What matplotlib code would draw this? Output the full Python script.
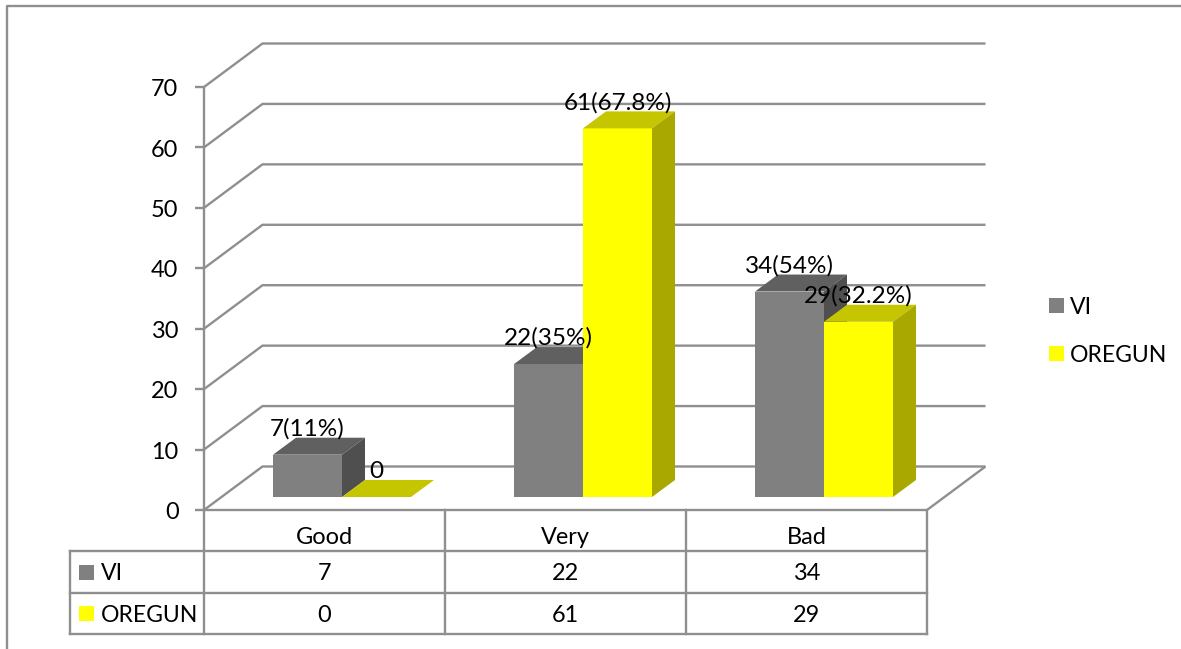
import matplotlib

matplotlib.use("Agg")
import matplotlib.pyplot as plt
from matplotlib.patches import Polygon, Rectangle

categories = ["Good", "Very", "Bad"]
series_names = ["VI", "OREGUN"]
vi_values = [7, 22, 34]
oregun_values = [0, 61, 29]
vi_labels = ["7(11%)", "22(35%)", "34(54%)"]
oregun_labels = ["0", "61(67.8%)", "29(32.2%)"]
y_ticks = [0, 10, 20, 30, 40, 50, 60, 70]

W, H = 1181, 649
LINE = "#8f8f8f"
FRONT = {"VI": "#808080", "OREGUN": "#ffff00"}
TOP = {"VI": "#606060", "OREGUN": "#c6c600"}
SIDE = {"VI": "#4f4f4f", "OREGUN": "#a8a800"}

plt.rcParams["font.family"] = ["Lato", "DejaVu Sans"]
plt.rcParams["font.size"] = 23.5 * 72 / 100
label_size = 24.3 * 72 / 100
name_size = 23 * 72 / 100

fig = plt.figure(figsize=(W / 100, H / 100), dpi=100)

# page axes in pixels, for the frame, legend and data table
page = fig.add_axes([0, 0, 1, 1])
page.set_xlim(0, W)
page.set_ylim(H, 0)
page.axis("off")

# plot axes: front plane of the fake 3D box
x0, x1, y0, y70 = 204, 927, 510, 87
ax = fig.add_axes([x0 / W, 1 - y0 / H, (x1 - x0) / W, (y0 - y70) / H])
ax.set_xlim(0, 3)
ax.set_ylim(0, 70)
ax.axis("off")

px_x = 3 / (x1 - x0)
px_y = 70 / (y0 - y70)
wall_dx, wall_dy = 58.5 * px_x, 43.5 * px_y
bar_dx, bar_dy = 17.5 * px_x, 13 * px_y
deep_dx, deep_dy = 23 * px_x, 17 * px_y
bar_w = 69 * px_x
line_kw = dict(color=LINE, lw=1.7, clip_on=False, solid_capstyle="butt")

# walls and floor
for v in y_ticks:
    ax.plot([0, wall_dx, 3 + wall_dx], [v, v + wall_dy, v + wall_dy], **line_kw)
    ax.plot([-9 * px_x, 0], [v, v], **line_kw)
ax.plot([0, 0], [0, 70], **line_kw)
ax.plot([0, 3, 3 + wall_dx], [0, 0, wall_dy], **line_kw)


def draw_bars(values, labels, name, offset, label_dx, label_dy):
    for i, v in enumerate(values):
        left = i + 0.5 + offset * bar_w - bar_w + bar_dx
        right = left + bar_w
        base = bar_dy
        top = base + v
        ax.bar(left, v, width=bar_w, bottom=base, align="edge", color=FRONT[name], zorder=3, clip_on=False)
        ax.add_patch(Polygon(
            [(left, top), (right, top), (right + deep_dx, top + deep_dy), (left + deep_dx, top + deep_dy)],
            facecolor=TOP[name], zorder=3, clip_on=False,
        ))
        if v > 0:
            ax.add_patch(Polygon(
                [(right, base), (right + deep_dx, base + deep_dy), (right + deep_dx, top + deep_dy), (right, top)],
                facecolor=SIDE[name], zorder=3, clip_on=False,
            ))
        ax.text(right + label_dx * px_x, top + label_dy * px_y, labels[i], ha="center", va="center_baseline",
                color="black", zorder=5, clip_on=False, fontsize=label_size)


draw_bars(vi_values, vi_labels, "VI", 0, -34.5, 28)
draw_bars(oregun_values, oregun_labels, "OREGUN", 1, -34.5, 28)

# y axis labels
for v in y_ticks:
    ax.text(-25.5 * px_x, v - 0.1, str(v), ha="right", va="center_baseline", clip_on=False)

# outer frame
page.plot([7, 7, 1181], [H, 6, 6], color=LINE, lw=1.7)

# data table
col_x = [70, 204, 445, 686, 927]
row_y = [551, 593, 634]
for x in col_x[1:]:
    page.plot([x, x], [510, 634], color=LINE, lw=1.7)
page.plot([70, 70], [551, 634], color=LINE, lw=1.7)
for y in row_y:
    page.plot([70, 927], [y, y], color=LINE, lw=1.7)
for i, cat in enumerate(categories):
    cx = (col_x[i + 1] + col_x[i + 2]) / 2
    page.text(cx, 536, cat, ha="center", va="center_baseline")
    page.text(cx, 572, str(vi_values[i]), ha="center", va="center_baseline")
    page.text(cx, 613.5, str(oregun_values[i]), ha="center", va="center_baseline")
for name, y in zip(series_names, [572, 613]):
    page.add_patch(Rectangle((79, y - 7.5), 15, 15, facecolor=FRONT[name], edgecolor="none"))
    page.text(101, y, name, ha="left", va="center_baseline", fontsize=name_size)

# legend
for name, y in zip(series_names, [305, 353]):
    page.add_patch(Rectangle((1049, y - 7.5), 15, 15, facecolor=FRONT[name], edgecolor="none"))
    page.text(1070, y, name, ha="left", va="center_baseline", fontsize=name_size)

fig.savefig("out.png", dpi=100)
